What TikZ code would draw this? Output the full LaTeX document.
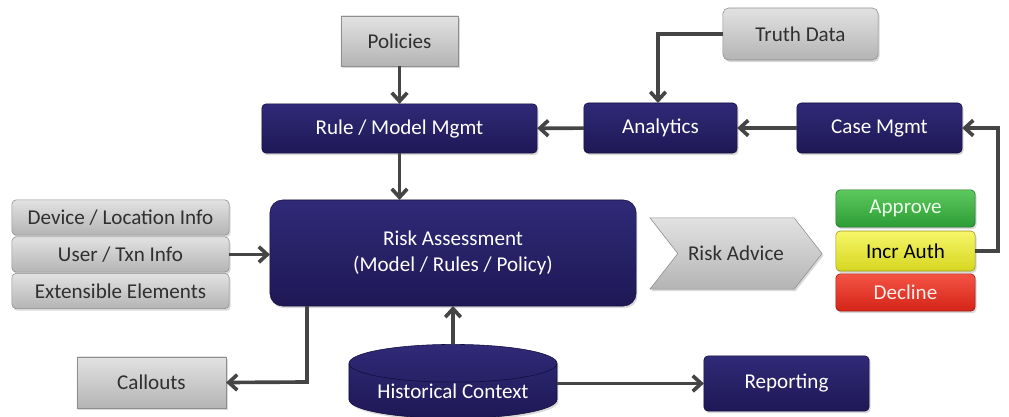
\documentclass[tikz,border=0pt]{standalone}
\usepackage{fontspec}
\setmainfont{Carlito}
\usetikzlibrary{arrows.meta,shapes.geometric,shapes.symbols,shadows}

\definecolor{navytop}{HTML}{302A78}
\definecolor{navybot}{HTML}{1E1855}
\definecolor{navyedge}{HTML}{120E3C}
\definecolor{graytop}{HTML}{E2E2E2}
\definecolor{graybot}{HTML}{B4B4B4}
\definecolor{grayedge}{HTML}{8E8E8E}
\definecolor{graytext}{HTML}{303030}
\definecolor{arrowgray}{HTML}{454545}
\definecolor{greentop}{HTML}{5CC95C}
\definecolor{greenbot}{HTML}{2C9C36}
\definecolor{yellowtop}{HTML}{F6F66A}
\definecolor{yellowbot}{HTML}{D6D620}
\definecolor{redtop}{HTML}{F45444}
\definecolor{redbot}{HTML}{D42418}

\begin{document}
\begin{tikzpicture}[x=0.025cm,y=-0.025cm,
  font=\fontsize{15}{18}\selectfont,
  base/.style={inner sep=0pt,outer sep=0pt,align=center,
    drop shadow={opacity=0.3,shadow xshift=1pt,shadow yshift=-1.5pt}},
  navybox/.style={base,rounded corners=3pt,draw=navyedge,top color=navytop,bottom color=navybot,text=white},
  graybox/.style={base,draw=grayedge,top color=graytop,bottom color=graybot,text=graytext},
  arr/.style={-{Straight Barb[length=6pt,width=11pt]},line width=2.6pt,draw=arrowgray}]

\useasboundingbox (0,0) rectangle (1009,416);

% top row
\node[graybox,minimum width=2.93cm,minimum height=1.25cm] (policies) at (399.5,41) {Policies};
\node[graybox,rounded corners=4pt,minimum width=3.88cm,minimum height=1.3cm] (truth) at (800.5,34) {Truth Data};
\node[navybox,minimum width=6.88cm,minimum height=1.23cm] (rule) at (399.5,128.5) {Rule / Model Mgmt};
\node[navybox,minimum width=3.83cm,minimum height=1.25cm] (analytics) at (660.5,128) {Analytics};
\node[navybox,minimum width=4.13cm,minimum height=1.25cm] (case) at (879.5,128) {Case Mgmt};

% inputs
\node[graybox,rounded corners=3pt,minimum width=5.43cm,minimum height=0.88cm] (device) at (120.5,217.5) {Device / Location Info};
\node[graybox,rounded corners=3pt,minimum width=5.43cm,minimum height=0.88cm] (user) at (120.5,254.5) {User / Txn Info};
\node[graybox,rounded corners=3pt,minimum width=5.43cm,minimum height=0.88cm] (extensible) at (120.5,291) {Extensible Elements};

% middle
\node[navybox,rounded corners=9pt,minimum width=9.15cm,minimum height=2.65cm] (risk) at (453,253)
  {Risk Assessment\\(Model / Rules / Policy)};
\node[graybox,signal,signal to=east,signal from=west,signal pointer angle=104,
  minimum width=4.3cm,minimum height=1.78cm] (advice) at (736,253.5) {Risk Advice};

% decisions
\node[base,rounded corners=3pt,draw=greenbot!70!black,top color=greentop,bottom color=greenbot,text=white!92!green,
  minimum width=3.48cm,minimum height=0.93cm] (approve) at (905.5,208.5) {Approve};
\node[base,rounded corners=3pt,draw=yellowbot!70!black,top color=yellowtop,bottom color=yellowbot,text=black,
  minimum width=3.48cm,minimum height=1cm] (incr) at (905.5,251) {Incr Auth};
\node[base,rounded corners=3pt,draw=redbot!70!black,top color=redtop,bottom color=redbot,text=white!92!red,
  minimum width=3.48cm,minimum height=0.93cm] (decline) at (905.5,292.5) {Decline};

% bottom row
\node[graybox,minimum width=3.73cm,minimum height=1.28cm] (callouts) at (151.5,382.5) {Callouts};
\node[base,cylinder,shape border rotate=90,aspect=0.25,draw=navyedge,top color=navytop,bottom color=navybot,text=white,
  minimum width=5.2cm,minimum height=1.85cm] (hist) at (453,391) {Historical Context};
\node[navybox,minimum width=4.13cm,minimum height=1.38cm] (reporting) at (786.5,383.5) {Reporting};

\coordinate (v1) at (998,128);
\coordinate (v2) at (658,34);
\coordinate (v3) at (307,382);

\draw[arr] (policies) -- (rule);
\draw[arr] (analytics) -- (rule);
\draw[arr] (case) -- (analytics);
\draw[arr] (truth.west) -- (v2) -- (v2 |- analytics.north);
\draw[arr] (incr.east) -| (v1) -- (case.east);
\draw[arr] (rule) -- (rule |- risk.north);
\draw[arr] (user) -- (user -| risk.west);
\draw[arr] (v3 |- risk.south) -- (v3) -- (callouts.east);
\draw[arr] (hist.north) -- (hist.north |- risk.south);
\draw[arr] (hist.east |- reporting.west) -- (reporting.west);
\end{tikzpicture}
\end{document}
